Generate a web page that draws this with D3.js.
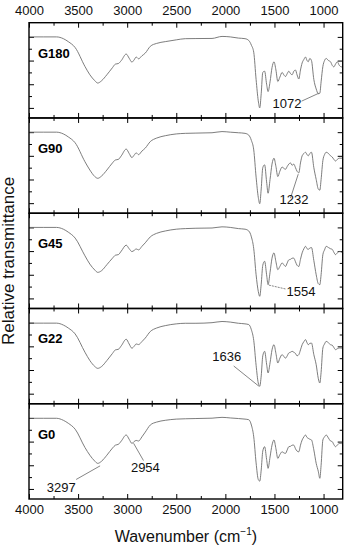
<!DOCTYPE html>
<html><head><meta charset="utf-8">
<script src="https://cdn.jsdelivr.net/npm/d3@7"></script>
<style>body{margin:0;background:#fff}svg{display:block}text{font-family:Arial,"Liberation Sans",sans-serif}</style>
</head><body><div id="chart"></div>
<script>
const wavenumbers = [
4000,3850,3720,3650,3600,3530,3430,3380,3330,3300,
3260,3207,3150,3120,3090,3060,3010,2980,2952,2930,
2908,2884,2850,2816,2765,2700,2612,2500,2408,2300,
2136,2034,1950,1867,1800,1762,1735,1711,1687,1665,
1650,1635,1619,1600,1580,1565,1545,1525,1505,1485,
1466,1445,1422,1405,1388,1370,1354,1337,1320,1303,
1286,1270,1252,1235,1218,1200,1184,1168,1156,1140,
1123,1099,1075,1054,1038,1025,1007,990,973,950,
929,912,895,878,860,840,816,805];

const G180 = [
60,60,60,58.5,56,51,35,28,23,21,
23,28,34,37,37.5,40,45.5,42,38.7,40.5,
43,41.5,44,46.3,52,54.5,56,57.5,58.5,58.6,
58.7,60.4,60,59,58.5,57,53,47,24,6,
0,12,30,31,20,13.8,22,34,39,32,
22.3,26,30,28,26.5,29,31,29,28,31,
32,28,24.4,32,38,41,43,40,39,41.8,
40,24,16,12,12.4,22,35,40,41.8,40,
39,36,34.7,37,39,36,34.7,35];

const G90 = [
60,60,60,58.5,56,51,35,28,22.5,21,
23,28,34,36.5,37,40,45.7,42,38.5,40.5,
42.5,41,44,46.5,52,55,57,58.5,59,59.2,
59.5,60.5,60,59.5,59,57.5,53,45,22,5,
-0.5,12,30,32.4,18,8.4,20,33,38,31,
22.5,27,30.5,29.5,28.6,31,33,34,32,33,
30,27,25.6,34,40,42,43,41,40,42,
43,30,20,12,11,20,36,41,43,42,
40,39,37,35.6,37,38,38,37];

const G45 = [
60,60,60,58.5,56,51,36,29,24,22,
23.5,28.5,34,36.5,37,40,45,42,39.6,40.5,
41.8,41,44,47,52,55,57,58.5,59,59.3,
59.5,60.5,60,59,58.5,57,52,42,20,6,
1.8,12,28,31.4,20,11.6,22,34,38.5,31,
24.3,27,30,28.5,27,30,32.6,33,34,34,
31,28,27,33,38.5,42,44,42,41.5,42.5,
43,32,20,12.5,11.6,20,37,41,44,43,
42,41.5,39,37,38.5,39.7,39,38];

const G22 = [
59.6,59.6,59.6,58,55.5,50.5,35,28,23,21.4,
23,28,34,37,37.5,40.5,46,42,38.4,40,
42,41.5,44,47,52.5,55.5,57.5,59,59.5,59.5,
60,61,60.5,59.5,59,58.4,54,45,24,9,
6.2,15,32,35.8,25,17.5,26,37,41.4,34,
25.9,30,33,31.5,30,32,34.4,35,35.8,35,
34,32,33,37,41.4,44,45.7,43,41.4,42.5,
42.8,33,24.5,13,9,18,38.6,42,44.2,43,
41.4,41,39,37.2,38,38.6,38.6,37];

const G0 = [
59.7,59.7,59.7,58,55.5,50.5,35,28.5,23.5,21.6,
23.5,28.5,34.5,37,37.7,40.5,45.6,42,38.5,40,
41,40.5,44,48,54,56.5,58,59,59.3,59.5,
59.8,60.5,60,59.5,59,58.5,54,44,22,8,
6.6,16,32,35.7,25,17.4,27,37,41.4,34,
25.8,29,31.4,30.5,30,33,35.7,36,37,37,
34,32,31.4,37,41.4,44,45.6,43.5,42.8,42,
41.4,33,21.6,15,9,20,41.4,44,45.6,43,
40.5,40,37.5,35.7,37,38.5,38.5,37];

const panelNames = ["G180","G90","G45","G22","G0"];
const panelSeries = [G180,G90,G45,G22,G0];
const xTickValues = [4000,3500,3000,2500,2000,1500,1000];
const xMinorTickValues = [3750,3250,2750,2250,1750,1250];
const yTickValues = [0,20,40,60];
const yMinorTickValues = [10,30,50];

// annotations: panel, label, target point, line start, text anchor (data coords)
const annoPanel = [0,1,2,3,4,4];
const annoLabel = ["1072","1232","1554","1636","3297","2954"];
const annoTarget = [[1048,12.4],[1258,24.5],[1564,11.4],[1660,6.4],[3276,19.5],[2935,38.6]];
const annoFrom = [[1224,5.7],[1337,4.2],[1388,8],[1915,23.4],[3520,8],[2834,24]];
const annoText = [[1520,-0.5],[1449,-0.7],[1378,2],[2133,27.6],[3819,-2.7],[2962,14]];

const W = 345, H = 550;
const plotLeft = 29, plotRight = 342.7, plotTop = 22.7, plotBottom = 499;
const panelH = (plotBottom - plotTop) / panelNames.length;

const svg = d3.select("#chart").append("svg").attr("width", W).attr("height", H);

const x = d3.scaleLinear().domain([4000, 805]).range([plotLeft, plotRight]);
const y = d3.scaleLinear().domain([-8.5, 72]).range([panelH, 0]);

const line = d3.line()
  .x((d, i) => x(wavenumbers[i]))
  .y(d => y(d))
  .curve(d3.curveMonotoneX);

panelNames.forEach((name, p) => {
  const g = svg.append("g").attr("transform", `translate(0,${plotTop + p * panelH})`);

  const addAxis = (axis, tr) => {
    const a = g.append("g").attr("transform", tr).call(axis);
    a.select(".domain").remove();
    a.selectAll("line").attr("stroke", "#000").attr("stroke-width", 1);
    return a;
  };
  addAxis(d3.axisTop(x).tickValues(xTickValues).tickSize(-5).tickFormat(""), "translate(0,0)");
  addAxis(d3.axisTop(x).tickValues(xMinorTickValues).tickSize(-3).tickFormat(""), "translate(0,0)");
  addAxis(d3.axisBottom(x).tickValues(xTickValues).tickSize(-5).tickFormat(""), `translate(0,${panelH})`);
  addAxis(d3.axisBottom(x).tickValues(xMinorTickValues).tickSize(-3).tickFormat(""), `translate(0,${panelH})`);
  addAxis(d3.axisLeft(y).tickValues(yTickValues).tickSize(-5).tickFormat(""), `translate(${plotLeft},0)`);
  addAxis(d3.axisLeft(y).tickValues(yMinorTickValues).tickSize(-3).tickFormat(""), `translate(${plotLeft},0)`);
  addAxis(d3.axisRight(y).tickValues(yTickValues).tickSize(-5).tickFormat(""), `translate(${plotRight},0)`);
  addAxis(d3.axisRight(y).tickValues(yMinorTickValues).tickSize(-3).tickFormat(""), `translate(${plotRight},0)`);

  if (p === 0) {
    const a = g.append("g").call(d3.axisTop(x).tickValues(xTickValues).tickSize(0).tickPadding(8).tickFormat(d3.format("d")));
    a.select(".domain").remove();
    a.selectAll("text").attr("font-size", 13).attr("fill", "#111").attr("font-family", "Arial, 'Liberation Sans', sans-serif");
  }
  if (p === panelNames.length - 1) {
    const a = g.append("g").attr("transform", `translate(0,${panelH})`)
      .call(d3.axisBottom(x).tickValues(xTickValues).tickSize(0).tickPadding(5.5).tickFormat(d3.format("d")));
    a.select(".domain").remove();
    a.selectAll("text").attr("font-size", 13).attr("fill", "#111").attr("font-family", "Arial, 'Liberation Sans', sans-serif");
  }

  g.append("path")
    .datum(panelSeries[p])
    .attr("fill", "none")
    .attr("stroke", "#6e6e6e")
    .attr("stroke-width", 0.9)
    .attr("d", line);

  g.append("rect")
    .attr("x", plotLeft).attr("y", 0)
    .attr("width", plotRight - plotLeft).attr("height", panelH)
    .attr("fill", "none").attr("stroke", "#000").attr("stroke-width", 1.4);

  g.append("text")
    .attr("x", 38).attr("y", 35)
    .attr("font-size", 13).attr("font-weight", "bold")
    .text(name);
});

annoLabel.forEach((lab, i) => {
  const g = svg.append("g").attr("transform", `translate(0,${plotTop + annoPanel[i] * panelH})`);
  g.append("line")
    .attr("x1", x(annoFrom[i][0])).attr("y1", y(annoFrom[i][1]))
    .attr("x2", x(annoTarget[i][0])).attr("y2", y(annoTarget[i][1]))
    .attr("stroke", "#666").attr("stroke-width", 0.8)
    .attr("stroke-dasharray", lab === "1554" ? "2,1" : null);
  g.append("text")
    .attr("x", x(annoText[i][0])).attr("y", y(annoText[i][1]))
    .attr("font-size", 13).attr("fill", "#111")
    .text(lab);
});

const xt = svg.append("text")
  .attr("x", (plotLeft + plotRight) / 2).attr("y", 542)
  .attr("text-anchor", "middle").attr("font-size", 16).attr("fill", "#111");
xt.append("tspan").text("Wavenumber (cm");
xt.append("tspan").attr("font-size", 10).attr("dy", -7).text("−1");
xt.append("tspan").attr("dy", 7).text(")");

svg.append("text")
  .attr("transform", `translate(14,${(plotTop + plotBottom) / 2}) rotate(-90)`)
  .attr("text-anchor", "middle").attr("font-size", 17).attr("fill", "#111")
  .text("Relative transmittance");
</script></body></html>
